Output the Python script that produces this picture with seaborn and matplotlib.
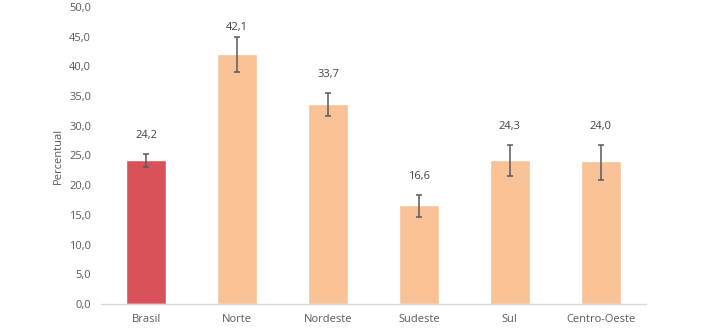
import matplotlib
matplotlib.use("Agg")
import matplotlib.pyplot as plt
import seaborn as sns
import pandas as pd

categories = ["Brasil", "Norte", "Nordeste", "Sudeste", "Sul", "Centro-Oeste"]
values = [24.2, 42.1, 33.7, 16.6, 24.3, 24.0]
ci_low = [23.1, 39.1, 31.6, 14.6, 21.5, 20.9]
ci_high = [25.3, 45.0, 35.6, 18.4, 26.8, 26.8]
value_labels = ["24,2", "42,1", "33,7", "16,6", "24,3", "24,0"]
yticks = [0, 5, 10, 15, 20, 25, 30, 35, 40, 45, 50]
ytick_labels = ["0,0", "5,0", "10,0", "15,0", "20,0", "25,0", "30,0", "35,0", "40,0", "45,0", "50,0"]

sns.set_style("white")
plt.rcParams["font.family"] = ["Open Sans", "DejaVu Sans"]

df = pd.DataFrame({"cat": categories, "val": values})
colors = ["#D9525A"] + ["#F8C196"] * (len(categories) - 1)

fig = plt.figure(figsize=(7.12, 3.28), dpi=100)
ax = fig.add_axes([0.1419, 0.0732, 0.7654, 0.9055])
sns.barplot(data=df, x="cat", y="val", hue="cat", palette=colors, legend=False,
            width=0.44, ax=ax, errorbar=None, saturation=1)

xs = list(range(len(categories)))
yerr = [[v - lo for v, lo in zip(values, ci_low)], [hi - v for v, hi in zip(values, ci_high)]]
ax.errorbar(xs, values, yerr=yerr, fmt="none", ecolor="#595959", elinewidth=1.1,
            capsize=2.5, capthick=1.1)

for x, hi, lab in zip(xs, ci_high, value_labels):
    ypos = min(hi + 3.0, 46.5)
    ax.text(x, ypos, lab, ha="center", va="center", fontsize=8, color="#404040")

ax.set_ylim(0, 50)
ax.set_xlim(-0.5, len(categories) - 0.5)
ax.set_yticks(yticks)
ax.set_yticklabels(ytick_labels)
ax.set_xlabel("")
ax.set_ylabel("Percentual", fontsize=8, color="#595959", labelpad=4)
ax.tick_params(axis="both", labelsize=8, colors="#595959", length=0)
ax.tick_params(axis="y", pad=7)
ax.tick_params(axis="x", pad=7)
for s in ["top", "right", "left"]:
    ax.spines[s].set_visible(False)
ax.spines["bottom"].set_color("#D9D9D9")
ax.spines["bottom"].set_linewidth(1)

fig.savefig("out.png", dpi=100)
